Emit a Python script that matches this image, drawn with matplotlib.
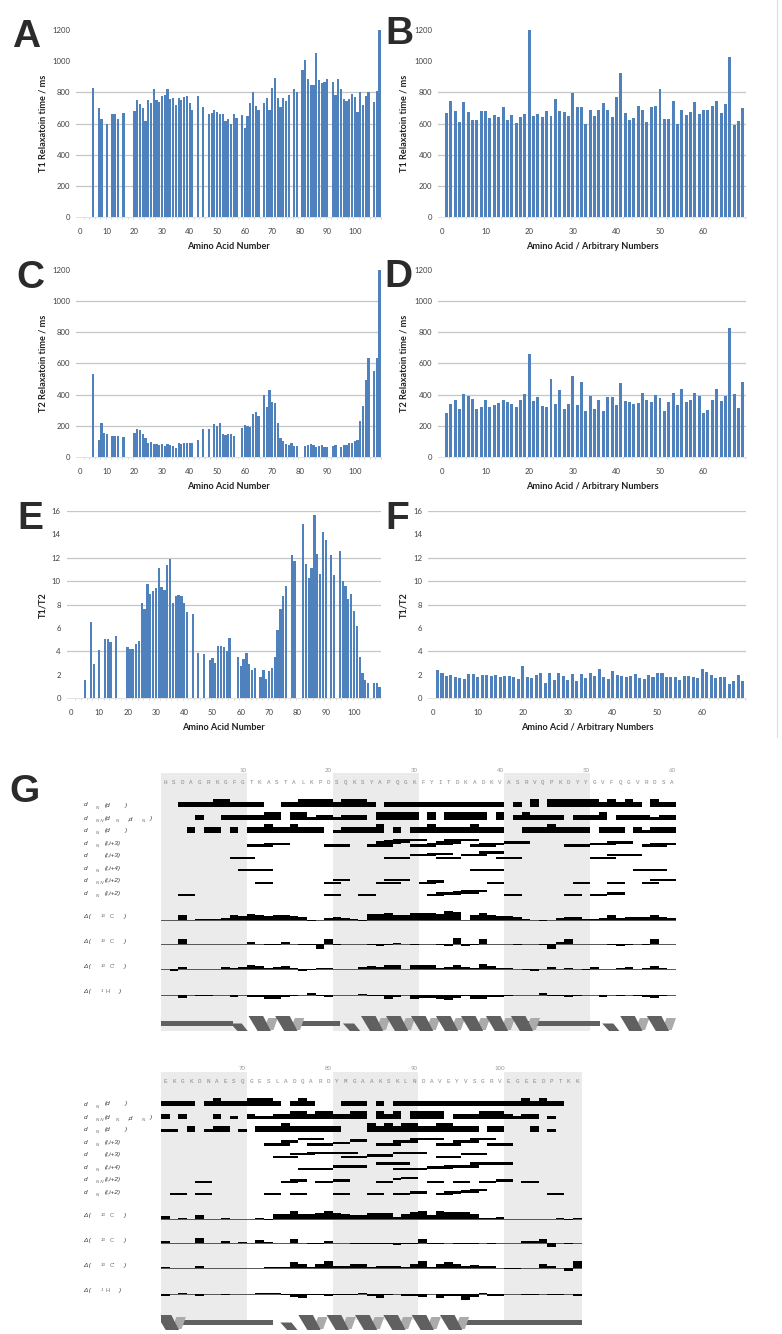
import numpy as np
import matplotlib.pyplot as plt
from matplotlib.lines import Line2D
from matplotlib.ticker import FixedLocator

W, H = 782, 1334
BLUE = '#4f81bd'
GRID = '#c6c6c6'
plt.rcParams['font.family'] = ['Lato', 'DejaVu Sans']

# relaxation data, residue numbers with missing ones left out
res_t1 = [5, 7, 8, 10, 12, 13, 14, 16, 20, 21, 22, 23, 24, 25, 26, 27, 28, 29, 30, 31, 32, 33, 34, 35, 36, 37, 38, 39, 40, 41,
          43, 45, 47, 48, 49, 50, 51, 52, 53, 54, 55, 56, 57, 59, 60, 61, 62, 63, 64, 65, 67, 68, 69, 70, 71, 72, 73, 74, 75, 76,
          78, 79, 81, 82, 83, 84, 85, 86, 87, 88, 89, 90, 92, 93, 94, 95, 96, 97, 98, 99, 100, 101, 102, 103, 104, 105, 107, 108, 109]
t1_protein = [830, 700, 630, 600, 660, 665, 630, 670, 680, 750, 725, 700, 620, 750, 735, 825, 750, 740, 780, 785, 820, 760, 765, 720, 765, 750, 770, 780, 735, 690,
              775, 705, 665, 668, 690, 675, 660, 665, 615, 628, 600, 665, 635, 657, 570, 650, 735, 805, 710, 690, 730, 762, 690, 828, 890, 765, 705, 762, 745, 782,
              825, 805, 945, 1008, 885, 850, 850, 1050, 882, 860, 870, 888, 865, 785, 885, 822, 755, 745, 760, 790, 768, 675, 803, 720, 780, 800, 737, 808, 1200]
res_t2 = [5, 7, 8, 9, 10, 12, 13, 14, 16, 20, 21, 22, 23, 24, 25, 26, 27, 28, 29, 30, 31, 32, 33, 34, 35, 36, 37, 38, 39, 40, 41,
          43, 45, 47, 49, 50, 51, 52, 53, 54, 55, 56, 59, 60, 61, 62, 63, 64, 65, 67, 68, 69, 70, 71, 72, 73, 74, 75, 76, 77, 78, 79,
          82, 83, 84, 85, 86, 87, 88, 89, 90, 92, 93, 95, 96, 97, 98, 99, 100, 101, 102, 103, 104, 105, 107, 108, 109]
t2_protein = [533, 110, 218, 155, 145, 132, 132, 135, 127, 155, 180, 175, 148, 125, 92, 97, 82, 82, 80, 82, 70, 82, 78, 68, 60, 92, 85, 87, 88, 90, 92,
              108, 180, 177, 210, 198, 218, 148, 138, 145, 148, 132, 185, 203, 197, 190, 275, 288, 263, 398, 318, 428, 352, 348, 218, 120, 102, 85, 80, 88, 68, 72,
              68, 75, 82, 75, 67, 72, 78, 63, 65, 70, 75, 65, 75, 75, 90, 88, 102, 108, 228, 325, 497, 637, 555, 637, 1200]
res_ratio = [5, 7, 8, 10, 12, 13, 14, 16, 20, 21, 22, 23, 24, 25, 26, 27, 28, 29, 30, 31, 32, 33, 34, 35, 36, 37, 38, 39, 40, 41,
             43, 45, 47, 49, 50, 51, 52, 53, 54, 55, 56, 59, 60, 61, 62, 63, 64, 65, 67, 68, 69, 70, 71, 72, 73, 74, 75, 76,
             78, 79, 82, 83, 84, 85, 86, 87, 88, 89, 90, 92, 93, 95, 96, 97, 98, 99, 100, 101, 102, 103, 104, 105, 107, 108, 109]
ratio_protein = [1.55, 6.55, 2.9, 4.1, 5.05, 5.05, 4.8, 5.35, 4.4, 4.2, 4.2, 4.65, 4.9, 8.1, 7.6, 9.75, 8.95, 9.2, 9.4, 11.1, 9.55, 9.25, 11.4, 11.9, 8.15, 8.7, 8.8, 8.75, 8.1, 7.35,
                 7.2, 3.85, 3.8, 3.25, 3.4, 3.0, 4.5, 4.5, 4.4, 4.0, 5.15, 3.55, 2.8, 3.35, 3.85, 2.9, 2.45, 2.6, 1.8, 2.4, 1.65, 2.3, 2.6, 3.5, 5.85, 7.6, 8.7, 9.6,
                 12.2, 11.7, 14.9, 11.45, 10.3, 11.1, 15.65, 12.3, 10.65, 14.2, 13.5, 12.2, 10.5, 12.6, 10.05, 9.6, 8.5, 8.9, 7.5, 6.15, 3.5, 2.2, 1.55, 1.3, 1.3, 1.28, 0.95]

numbers = list(range(1, 70))
t1_arbitrary = [668, 742, 680, 613, 737, 672, 622, 622, 678, 678, 635, 655, 640, 705, 622, 658, 605, 645, 663, 1198, 648, 665, 645, 682, 652, 755, 678, 672, 648, 797,
                708, 705, 595, 690, 652, 685, 733, 685, 645, 768, 922, 667, 622, 638, 712, 687, 608, 708, 715, 820, 632, 628, 742, 598, 687, 658, 675, 737, 660, 690,
                685, 715, 745, 667, 723, 1030, 590, 620, 703]
t2_arbitrary = [283, 340, 365, 305, 405, 392, 372, 305, 323, 368, 318, 335, 345, 365, 352, 343, 318, 365, 402, 662, 358, 383, 330, 318, 498, 342, 430, 310, 340, 522,
                335, 480, 292, 393, 305, 365, 292, 385, 385, 333, 475, 358, 352, 340, 348, 410, 368, 352, 400, 378, 292, 350, 410, 335, 435, 350, 363, 410, 392, 283,
                300, 365, 435, 358, 392, 830, 403, 315, 483]
ratio_arbitrary = [2.4, 2.15, 1.9, 2.0, 1.85, 1.7, 1.65, 2.05, 2.1, 1.85, 2.0, 1.95, 1.88, 1.95, 1.8, 1.9, 1.9, 1.78, 1.65, 2.72, 1.82, 1.75, 1.95, 2.15, 1.32, 2.2, 1.6, 2.15, 1.9, 1.55,
                   2.1, 1.45, 2.05, 1.75, 2.15, 1.88, 2.48, 1.78, 1.65, 2.32, 1.95, 1.9, 1.78, 1.88, 2.05, 1.72, 1.65, 2.0, 1.82, 2.18, 2.18, 1.82, 1.82, 1.8, 1.6, 1.88, 1.9, 1.82, 1.7, 2.5,
                   2.28, 1.95, 1.7, 1.85, 1.85, 1.25, 1.45, 2.0, 1.45]

grid_time_ab = [200, 400, 600, 800]
grid_time_cd = [200, 400, 600, 800, 1000]
grid_ratio = [4, 8, 10, 12, 16]

# sequence lines, positions below count from the start of each line
seq_1 = "HSDAGRKGFGTKASTALKPDSQKSYAPQGKFYITDKADKVASRVQPKDYYGVFQGVRDSA"
seq_2 = "EKGKDNAESQGESLADQARDYMGAAKSKLNDAVEYVSGRVEGEEDPTKK"
numbered_1 = [(10, "10"), (20, "20"), (30, "30"), (40, "40"), (50, "50"), (60, "60")]
numbered_2 = [(10, "70"), (20, "80"), (30, "90"), (40, "100")]
bands_1 = [(0, 10), (20, 30), (40, 50)]
bands_2 = [(0, 10), (20, 30), (40, 49)]

# sequential NOEs: start, end, class (t tall, m medium, n narrow)
noe_top_1 = [
    [(3, 12, 'm'), (7, 8, 't'), (15, 25, 'm'), (17, 20, 't'), (22, 24, 't'), (27, 40, 'm'), (42, 42, 'm'), (44, 44, 't'),
     (46, 51, 't'), (52, 56, 'm'), (53, 53, 't'), (55, 55, 't'), (58, 58, 't'), (59, 60, 'm')],
    [(5, 5, 'm'), (8, 12, 'm'), (13, 14, 't'), (16, 17, 't'), (18, 18, 'n'), (19, 20, 'm'), (21, 21, 'n'), (22, 24, 'm'),
     (26, 30, 't'), (32, 32, 't'), (34, 38, 't'), (40, 40, 't'), (42, 47, 'm'), (43, 43, 't'), (49, 52, 'm'), (52, 52, 't'),
     (54, 57, 'm'), (58, 58, 'n'), (59, 60, 'm')],
    [(4, 4, 'm'), (6, 7, 'm'), (9, 9, 'm'), (11, 19, 'm'), (13, 13, 't'), (16, 16, 't'), (21, 21, 'n'), (22, 26, 'm'),
     (26, 26, 't'), (28, 28, 'm'), (30, 40, 'm'), (32, 32, 't'), (37, 37, 't'), (43, 50, 'm'), (46, 46, 't'), (52, 54, 'm'),
     (56, 56, 'm'), (57, 57, 'n'), (58, 60, 'm')],
]
noe_top_2 = [
    [(1, 4, 'm'), (6, 14, 'm'), (7, 7, 't'), (11, 13, 't'), (16, 18, 'm'), (17, 17, 't'), (22, 24, 'm'), (26, 26, 'm'),
     (28, 47, 'm'), (43, 43, 't'), (45, 45, 't')],
    [(1, 1, 'm'), (3, 3, 'm'), (7, 7, 'm'), (9, 9, 'n'), (11, 11, 'm'), (12, 13, 'n'), (14, 15, 'm'), (16, 17, 't'), (18, 18, 'm'),
     (19, 20, 't'), (21, 22, 'm'), (23, 24, 't'), (26, 26, 't'), (27, 27, 'm'), (28, 28, 't'), (30, 33, 't'), (35, 41, 'm'),
     (38, 40, 't'), (42, 42, 'n'), (43, 44, 'm'), (46, 46, 'n')],
    [(1, 2, 'n'), (4, 4, 'm'), (6, 6, 'n'), (7, 8, 'm'), (10, 10, 'n'), (12, 21, 'm'), (15, 15, 't'), (25, 37, 'm'), (25, 25, 't'),
     (27, 27, 't'), (29, 30, 't'), (33, 34, 't'), (39, 40, 'm'), (44, 44, 'm'), (46, 46, 'n')],
]

# medium range NOEs: start, end, stacking level
noe_mid_1 = [
    [(11, 13, 0), (13, 15, 1), (20, 22, 0), (25, 27, 0), (26, 28, 2), (27, 29, 3), (28, 31, 4), (30, 32, 0), (32, 34, 1), (33, 35, 2),
     (34, 37, 4), (37, 39, 0), (38, 40, 1), (41, 43, 2), (48, 50, 0), (51, 53, 1), (53, 55, 2), (57, 59, 0), (58, 60, 1)],
    [(9, 11, 0), (27, 29, 0), (30, 32, 2), (32, 34, 3), (33, 35, 0), (36, 38, 2), (38, 40, 4), (40, 42, 0), (51, 53, 0), (53, 56, 2)],
    [(10, 13, 0), (37, 40, 0), (56, 59, 0)],
    [(12, 13, 0), (20, 21, 0), (21, 22, 2), (26, 28, 0), (27, 29, 2), (31, 32, 0), (32, 33, 1), (39, 40, 0), (49, 50, 0), (53, 54, 0),
     (57, 58, 0), (58, 60, 2)],
    [(3, 4, 0), (20, 21, 0), (24, 25, 0), (32, 33, 0), (33, 35, 1), (35, 37, 2), (36, 38, 3), (41, 42, 0), (48, 49, 0), (51, 52, 0),
     (53, 54, 1)],
]
noe_mid_2 = [
    [(13, 15, 0), (15, 16, 2), (17, 19, 4), (18, 20, 0), (21, 22, 1), (23, 24, 3), (26, 28, 0), (28, 30, 2), (30, 33, 4), (33, 35, 0),
     (35, 37, 2), (37, 39, 4), (39, 41, 0)],
    [(14, 16, 0), (16, 18, 2), (18, 20, 3), (21, 23, 3), (22, 24, 0), (25, 27, 1), (28, 31, 3), (33, 35, 0), (36, 38, 2)],
    [(17, 20, 0), (21, 24, 2), (26, 29, 4), (28, 31, 0), (32, 34, 1), (34, 37, 2), (37, 41, 4)],
    [(5, 6, 0), (15, 16, 0), (16, 17, 1), (19, 20, 0), (21, 22, 1), (26, 27, 0), (28, 28, 2), (29, 30, 3), (32, 33, 0), (35, 36, 0),
     (38, 39, 0), (40, 41, 1), (43, 44, 0)],
    [(2, 3, 0), (5, 6, 0), (13, 14, 0), (16, 17, 0), (21, 22, 0), (25, 26, 0), (28, 29, 0), (30, 31, 1), (33, 34, 0), (34, 35, 1),
     (36, 37, 2), (37, 38, 3), (46, 47, 0)],
]

# chemical shift index, one value per residue
csi_1 = [
    [1, 1, 14, 1, 2, 3, 3, 5, 14, 12, 18, 14, 12, 14, 14, 12, 8, -2, 0, 7, 9, 5, 3, -2, 17, 18, 20, 16, 14, 22,
     22, 20, 18, 26, 24, 1, 14, 22, 14, 12, 12, 8, 3, 1, -2, 1, 6, 8, 10, 4, 2, 7, 14, 6, 10, 8, 10, 14, 8, 5],
    [0, 2, 15, 2, 1, 2, 1, 2, 1, 0, 6, 2, -3, -3, 6, 2, -1, -3, -14, 15, -1, 1, 1, 2, -2, -5, -3, 3, 0, -3,
     1, 0, -3, -5, 20, -5, -3, 15, 1, 1, 2, -1, 1, 1, -2, -15, 8, 15, 2, 1, 1, 0, -2, -4, -2, 0, -2, 15, 1, 0],
    [0, -4, 6, 1, 1, 1, 2, 6, 4, 8, 12, 10, 3, 8, 10, 3, -4, -1, 4, 5, 0, 0, 1, 8, 10, 8, 13, 12, 2, 12,
     12, 12, 3, 7, 12, 8, 4, 16, 10, 3, 3, 1, -3, -5, 1, 6, 2, 5, 0, -3, 8, 0, 1, 3, 6, 1, 4, 10, 3, 0],
    [0, -2, -10, 0, -3, -3, 0, -2, -8, 0, -7, -8, -14, -14, -8, -5, -1, 4, -3, -8, -1, -1, 0, 2, -3, -5, -12, -7, 0, -12,
     -10, -10, -13, -15, -9, -4, -12, -14, -6, -6, -5, 0, -1, 0, 5, -3, -5, -6, -5, -2, 0, -7, -2, -4, 0, -4, -7, -10, -3, -2],
]
csi_2 = [
    [8, 1, 3, 1, 12, 1, 1, 4, 1, 1, 1, 2, -3, 16, 16, 24, 14, 14, 18, 24, 18, 14, 12, 12, 18, 18, 18, 5, 15, 22,
     24, 12, 24, 20, 20, 22, 16, 4, 2, 5, 1, 1, 1, 1, 1, 1, 2, -4, 2],
    [6, 0, 0, 0, 16, 2, 0, 6, 0, 3, 0, 10, 4, 0, 0, 12, 0, -1, -1, 8, 0, 0, -1, -1, -2, -3, -2, -4, -1, -1,
     12, -2, -3, 2, -2, -2, -1, 0, -2, 0, 0, 0, 8, 8, 14, -12, 0, -1, 2],
    [3, 1, 1, 1, 7, 1, 2, 1, 1, 0, 0, 2, 3, 5, 5, 18, 12, 5, 14, 22, 8, 6, 14, 12, 5, 8, 8, 7, 5, 13,
     22, 5, 14, 20, 14, 8, 10, 8, 7, 1, -1, -1, 0, 0, 12, 6, 1, -7, 22],
    [-6, -2, 1, -2, -8, 0, 0, -3, 0, 0, 0, 1, 1, 3, -4, -10, -12, -4, -4, -8, -4, -3, -4, 1, -8, -14, -5, 0, -7, -7,
     -9, -1, -14, -6, -7, -19, -10, 1, -6, -6, 0, 0, -3, -3, 0, -3, -3, 0, -7],
]

# secondary structure: coil spans, then helices as first crest, period, turns
coil_1 = [(0, 8.4), (16, 20.8), (41.6, 51.2)]
helix_1 = [(10.2, 3.1, 2), (23.3, 2.91, 7), (53.5, 3.1, 2)]
coil_2 = [(2.2, 13), (34.8, 49)]
helix_2 = [(-0.5, 3.3, 1), (16, 3.3, 6)]

noe_subs = ["N", "N N", "N", "N", "", "N", "N N", "N"]
noe_args = ["(d", "(d", "(d", "(i,i+3)", "(i,i+3)", "(i,i+4)", "(i,i+2)", "(i,i+2)"]
csi_sups = ["13", "13", "13", "1"]
csi_atoms = ["C", "C", "C'", "H"]


def px_axes(left, top, right, bottom):
    return fig.add_axes([left / W, 1 - bottom / H, (right - left) / W, (bottom - top) / H])


def ptext(x, y, s, **kw):
    fig.text(x / W, 1 - y / H, s, **kw)


def bar_panel(box, zero, scale, xs, ys, ymax, yticks, grid, xticks, ylabel, xlabel, ylab_x):
    left, top, right, bottom = box
    ax = px_axes(left, top, right, bottom)
    ax.set_xlim((left - zero) / scale, (right - zero) / scale)
    ax.set_ylim(0, ymax)
    for g in grid:
        ax.axhline(g, color=GRID, lw=0.9, zorder=1)
    ax.bar(xs, ys, width=0.8 if scale < 3 else 0.68, color=BLUE, zorder=2)
    for s in ['top', 'right', 'left']:
        ax.spines[s].set_visible(False)
    ax.spines['bottom'].set_color('#dddddd')
    ax.spines['bottom'].set_linewidth(0.6)
    ax.set_yticks(yticks)
    ax.set_xticks(xticks)
    ax.xaxis.set_minor_locator(FixedLocator(np.arange(1.5, 110, 2)))
    ax.tick_params(axis='both', which='major', length=0, labelsize=5.6, labelcolor='#404040')
    ax.tick_params(axis='x', which='minor', length=1.2, width=0.4, color='#bbbbbb')
    ax.tick_params(axis='y', pad=4.2)
    ax.tick_params(axis='x', pad=7.8)
    ptext(ylab_x, (top + bottom) / 2, ylabel, rotation=90, ha='center', va='center', fontsize=6.6, fontweight='bold', color='#222222')
    ptext((left + right) / 2, bottom + 29.4, xlabel, ha='center', va='center', fontsize=6.6, fontweight='bold', color='#222222')
    return ax


def draw_helix(ax, ytop, ybot, first, period, turns):
    ymid = (ytop + ybot) / 2
    xs = first + np.arange(turns) * period
    # entry wedge sits below the coil
    wedge = first - 2.1
    if wedge > 0:
        ax.fill([wedge, wedge + 1.3, wedge + 2.0, wedge + 0.8], [ymid, ymid, ybot, ybot], color='#606060', lw=0, zorder=5)
    for x in xs:
        ax.fill([x + 1.7, x + 2.9, x + 3.4, x + 2.3], [ybot - 1, ybot - 1, ytop + 2, ytop + 2], color='#ababab', lw=0, zorder=4)
        ax.fill([x, x + 1.7, x + 2.6, x + 1.05], [ytop, ytop, ybot, ybot], color='#606060', lw=0, zorder=5)


def seq_block(top, bottom, band_bottom, nres, seq, numbered, bands, tops, mids, csi, coils, helices):
    left = 161
    right = left + nres * 515 / 60
    ax = px_axes(left, top, right, bottom)
    ax.set_xlim(0, nres)
    ax.set_ylim(bottom - top, 0)
    ax.axis('off')
    for a, b in bands:
        ax.bar(a, band_bottom - top, width=b - a, bottom=0, align='edge', color='#ebebeb', lw=0, zorder=0)
    for i, ch in enumerate(seq):
        ax.text(i + 0.5, 9.7, ch, ha='center', va='center', fontsize=4.2, family=['Liberation Mono', 'DejaVu Sans'], color='#888888')
    for pos, lab in numbered:
        ax.text(pos - 0.5, -3, lab, ha='center', va='center', fontsize=4.4, color='#999999', clip_on=False)
    heights = {'t': 8.3, 'm': 5.3, 'n': 2.7}
    for base, row in zip([34.3, 47, 59.7], tops):
        for a, b, kind in row:
            ax.bar(a - 1, -heights[kind], width=b - a + 1, bottom=base, align='edge', color='black', lw=0, zorder=2)
    for centre, row in zip([72.3, 84.7, 97, 109.7, 122], mids):
        for a, b, lev in row:
            ax.bar(a - 1, -2.4, width=b - a + 1, bottom=centre + 1.2 - lev * 1.33, align='edge', color='black', lw=0, zorder=2)
    for base, vals in zip([147, 171.3, 196.3, 221.7], csi):
        ax.axhline(base, color='#555555', lw=0.7, zorder=1)
        ax.bar(np.arange(nres), -np.array(vals) / 3, width=1, bottom=base, align='edge', color='black', lw=0, zorder=2)
    for a, b in coils:
        ax.bar(a, 4.6, width=b - a, bottom=248, align='edge', color='#606060', lw=0, zorder=3)
    for first, period, turns in helices:
        draw_helix(ax, 243, 258, first, period, turns)
    return ax


def row_labels(top):
    offs = [32, 45.3, 57.7, 70.3, 82.7, 95.3, 107.7, 120.3]
    txt = dict(fontsize=4.6, style='italic', va='center', color='#333333', family=['Liberation Sans', 'DejaVu Sans'])
    small = dict(fontsize=3.2, style='italic', va='center', color='#666666', family=['Liberation Sans', 'DejaVu Sans'])
    for i, off in enumerate(offs):
        y = top + off
        ptext(83.3, y, "d", **txt)
        if noe_subs[i]:
            ptext(95.5, y + 2.6, noe_subs[i], **small)
        ptext(105, y, noe_args[i], **txt)
        if i in (0, 2):
            ptext(125, y, ")", **txt)
        if i == 1:
            ptext(115.7, y + 2.6, "N", **small)
            ptext(128, y, ",d", **txt)
            ptext(141.7, y + 2.6, "N", **small)
            ptext(150, y, ")", **txt)
    for off, sup, atom in zip([143.7, 168.7, 193.7, 218.7], csi_sups, csi_atoms):
        y = top + off
        ptext(83.3, y, "Δ (", **txt)
        ptext(101, y - 1, sup, **small)
        ptext(110 if atom != "H" else 105, y, atom, fontsize=4.2, va='center', color='#777777', family=['Liberation Sans', 'DejaVu Sans'])
        ptext(124 if atom != "H" else 119, y, ")", **txt)


fig = plt.figure(figsize=(W / 100, H / 100), dpi=100)

time_ticks = [0, 200, 400, 600, 800, 1000, 1200]
ratio_ticks = [0, 2, 4, 6, 8, 10, 12, 14, 16]
x_long = list(range(0, 101, 10))
x_short = list(range(0, 61, 10))

bar_panel((76, 30, 381, 217.3), 79.5, 2.753, res_t1, t1_protein, 1200, time_ticks, grid_time_ab, x_long,
          "T1 Relaxatoin time / ms", "Amino Acid Number", 42.7)
bar_panel((438, 30, 745.7, 217.3), 442, 4.36, numbers, t1_arbitrary, 1200, time_ticks, grid_time_ab, x_short,
          "T1 Relaxatoin time / ms", "Amino Acid / Arbitrary Numbers", 404)
bar_panel((76, 270, 381, 457), 79.5, 2.753, res_t2, t2_protein, 1200, time_ticks, grid_time_cd, x_long,
          "T2 Relaxatoin time / ms", "Amino Acid Number", 42.7)
bar_panel((438, 270, 745.7, 457), 442, 4.36, numbers, t2_arbitrary, 1200, time_ticks, grid_time_cd, x_short,
          "T2 Relaxatoin time / ms", "Amino Acid / Arbitrary Numbers", 404)
bar_panel((66.7, 511, 380.7, 698.3), 71, 2.83, res_ratio, ratio_protein, 16, ratio_ticks, grid_ratio, x_long,
          "T1/T2", "Amino Acid Number", 42.7)
bar_panel((428.3, 511, 745.7, 698.3), 433, 4.49, numbers, ratio_arbitrary, 16, ratio_ticks, grid_ratio, x_short,
          "T1/T2", "Amino Acid / Arbitrary Numbers", 404)

seq_block(773, 1031, 1031, 60, seq_1, numbered_1, bands_1, noe_top_1, noe_mid_1, csi_1, coil_1, helix_1)
seq_block(1072, 1330, 1320, 49, seq_2, numbered_2, bands_2, noe_top_2, noe_mid_2, csi_2, coil_2, helix_2)
row_labels(773)
row_labels(1072)

letters = [("A", 12, 47), ("B", 385, 44), ("C", 16, 288), ("D", 384, 287), ("E", 17, 529), ("F", 385, 529), ("G", 9, 802)]
for s, x, y in letters:
    ptext(x, y, s, fontsize=28, fontweight='bold', family=['Liberation Sans', 'DejaVu Sans'], color='#2b2b2b', ha='left', va='baseline')

fig.add_artist(Line2D([777 / W, 777 / W], [1, 1 - 737 / H], color='#dcdcdc', lw=0.8))

fig.savefig("out.png", dpi=100)
